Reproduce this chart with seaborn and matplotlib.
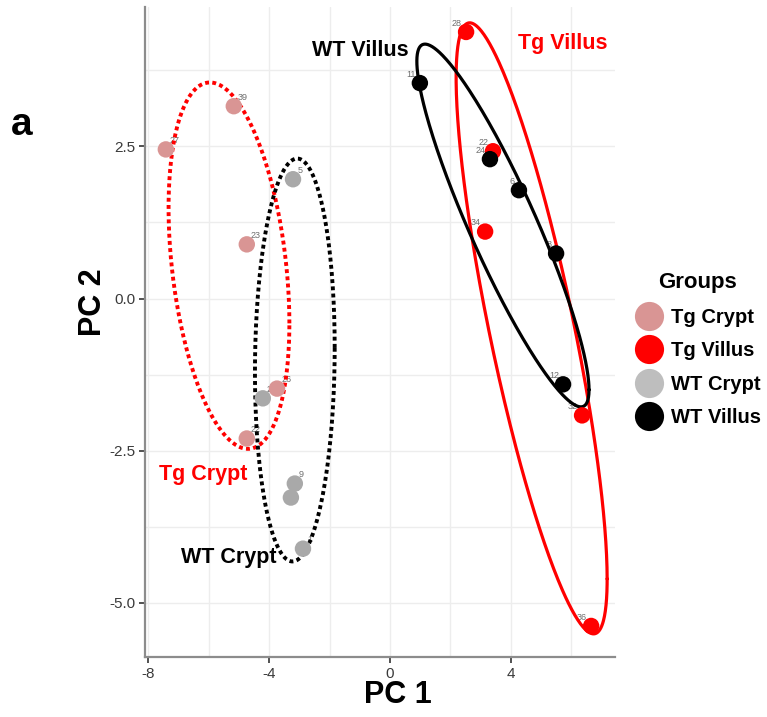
import numpy as np
import pandas as pd
import matplotlib
matplotlib.use("Agg")
import matplotlib.pyplot as plt
from matplotlib.lines import Line2D
import seaborn as sns

# ---------------- data ----------------
groups = ["Tg Crypt", "Tg Villus", "WT Crypt", "WT Villus"]
colors = ["#D99594", "#FF0000", "#A9A9A9", "#000000"]
legend_colors = ["#D99594", "#FF0000", "#BEBEBE", "#000000"]

tg_crypt_pc1 = [-7.42, -5.17, -4.74, -3.74, -4.74]
tg_crypt_pc2 = [2.45, 3.16, 0.89, -1.48, -2.30]
tg_crypt_ids = ["27", "39", "23", "26", "22"]

wt_crypt_pc1 = [-3.21, -4.21, -3.15, -3.28, -2.88]
wt_crypt_pc2 = [1.96, -1.64, -3.04, -3.27, -4.11]
wt_crypt_ids = ["5", "2", "9", "7", "1"]

tg_villus_pc1 = [2.52, 3.41, 3.15, 6.36, 6.66]
tg_villus_pc2 = [4.38, 2.42, 1.10, -1.92, -5.38]
tg_villus_ids = ["28", "22", "34", "32", "36"]

wt_villus_pc1 = [0.99, 3.31, 4.27, 5.50, 5.73]
wt_villus_pc2 = [3.54, 2.29, 1.78, 0.74, -1.41]
wt_villus_ids = ["11", "24", "6", "8", "12"]

# confidence ellipses (data units):
# centre, half x-extent, half y-extent, x-offset of topmost point
ell_cx = [-5.33, 4.69, -3.15, 3.74]
ell_cy = [0.54, -0.49, -1.01, 1.20]
ell_hw = [2.00, 2.50, 1.32, 2.85]
ell_hh = [3.01, 5.02, 3.31, 2.98]
ell_dxtop = [-0.63, -2.05, 0.08, -2.58]
ell_styles = ["dotted", "solid", "dotted", "solid"]
ell_colors = ["#FF0000", "#FF0000", "#000000", "#000000"]

ell_label_text = ["Tg Crypt", "Tg Villus", "WT Crypt", "WT Villus"]
ell_label_x = [-6.19, 5.73, -5.33, -0.99]
ell_label_y = [-2.89, 4.19, -4.26, 4.08]
ell_label_colors = ["#FF0000", "#FF0000", "#000000", "#000000"]

x_ticks = [-8, -4, 0, 4]
y_ticks = [-5.0, -2.5, 0.0, 2.5]

df = pd.concat([
    pd.DataFrame({"PC1": tg_crypt_pc1, "PC2": tg_crypt_pc2, "id": tg_crypt_ids, "Group": "Tg Crypt"}),
    pd.DataFrame({"PC1": tg_villus_pc1, "PC2": tg_villus_pc2, "id": tg_villus_ids, "Group": "Tg Villus"}),
    pd.DataFrame({"PC1": wt_crypt_pc1, "PC2": wt_crypt_pc2, "id": wt_crypt_ids, "Group": "WT Crypt"}),
    pd.DataFrame({"PC1": wt_villus_pc1, "PC2": wt_villus_pc2, "id": wt_villus_ids, "Group": "WT Villus"}),
], ignore_index=True)

# ---------------- figure ----------------
sns.set_theme(style="white")
plt.rcParams["font.family"] = ["Liberation Sans", "DejaVu Sans"]
plt.rcParams["text.color"] = "black"

fig = plt.figure(figsize=(7.67, 7.17), dpi=100)
ax = fig.add_axes([145 / 767, 1 - 657 / 717, (615 - 145) / 767, (657 - 7) / 717])

ax.set_xlim(-8.11, 7.45)
ax.set_ylim(-5.89, 4.79)

# grid
for gx in [-8, -6, -4, -2, 0, 2, 4, 6]:
    ax.axvline(gx, color="#EDEDED", lw=1.0, zorder=0)
for gy in [-5.0, -3.75, -2.5, -1.25, 0.0, 1.25, 2.5, 3.75]:
    ax.axhline(gy, color="#EDEDED", lw=1.0, zorder=0)

# ellipses
t = np.linspace(0, 2 * np.pi, 400)
for cx, cy, hw, hh, dx, ls, c in zip(ell_cx, ell_cy, ell_hw, ell_hh, ell_dxtop, ell_styles, ell_colors):
    S = np.array([[hw ** 2, dx * hh], [dx * hh, hh ** 2]])
    L = np.linalg.cholesky(S)
    pts = L @ np.vstack([np.cos(t), np.sin(t)])
    if ls == "dotted":
        ax.plot(cx + pts[0], cy + pts[1], color=c, lw=2.8, linestyle=(0, (1, 0.85)),
                dash_capstyle="butt", zorder=2)
    else:
        ax.plot(cx + pts[0], cy + pts[1], color=c, lw=2.3, zorder=2)

# sample labels (drawn under points)
for _, r in df.iterrows():
    if "Crypt" in r["Group"]:
        ax.annotate(r["id"], (r["PC1"], r["PC2"]), xytext=(3, 3), textcoords="offset points",
                    fontsize=6.5, color="#6E6E6E", ha="left", va="bottom", zorder=1)
    else:
        ax.annotate(r["id"], (r["PC1"], r["PC2"]), xytext=(-3, 3), textcoords="offset points",
                    fontsize=6.5, color="#6E6E6E", ha="right", va="bottom", zorder=1)

sns.scatterplot(data=df, x="PC1", y="PC2", hue="Group", hue_order=groups,
                palette=dict(zip(groups, colors)), s=140, linewidth=0, ax=ax,
                legend=False, zorder=3)

for txt, lx, ly, lc in zip(ell_label_text, ell_label_x, ell_label_y, ell_label_colors):
    ax.text(lx, ly, txt, color=lc, fontsize=15.5, fontweight="bold", ha="center", va="center", zorder=4)

# axes styling
for side in ["top", "right"]:
    ax.spines[side].set_visible(False)
for side in ["left", "bottom"]:
    ax.spines[side].set_color("#8C8C8C")
    ax.spines[side].set_linewidth(1.6)
ax.set_xticks(x_ticks)
ax.set_xticklabels([str(v) for v in x_ticks])
ax.set_yticks(y_ticks)
ax.set_yticklabels([f"{v:.1f}" for v in y_ticks])
ax.tick_params(axis="both", which="major", length=4, width=1.2, color="#333333",
               labelsize=11, labelcolor="#3A3A3A", pad=3, bottom=True, left=True)
ax.set_xlabel("PC 1", fontsize=22, fontweight="bold", color="black")
ax.set_ylabel("PC 2", fontsize=22, fontweight="bold", color="black")
ax.xaxis.set_label_coords((398 - 145) / 470, -0.036)
ax.yaxis.set_label_coords(-0.078, (657 - 302) / 650)

# legend
handles = [Line2D([0], [0], marker="o", linestyle="none", markersize=21,
                  markerfacecolor=c, markeredgewidth=0) for c in legend_colors]
leg = fig.legend(handles, groups, title="Groups", loc="upper left",
                 bbox_to_anchor=(626 / 767, 1 - 264 / 717), frameon=False,
                 prop={"weight": "bold", "size": 14.5}, handletextpad=0.35,
                 labelspacing=0.72, borderaxespad=0, handlelength=1.5)
leg.get_title().set_fontweight("bold")
leg.get_title().set_fontsize(16)
leg.get_title().set_color("black")
for tx in leg.get_texts():
    tx.set_color("black")

fig.text(22 / 767, 1 - 125 / 717, "a", fontsize=28, fontweight="bold", color="black",
         ha="center", va="center")

fig.savefig("out.png", dpi=100)
